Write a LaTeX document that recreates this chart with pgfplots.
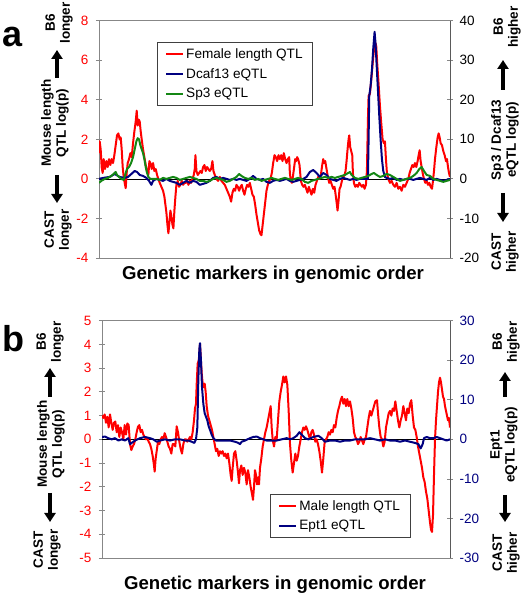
\documentclass[border=0pt]{standalone}
\usepackage{fontspec}
\setmainfont{Liberation Sans}
\usepackage{pgfplots}
\pgfplotsset{compat=1.18}
\usetikzlibrary{arrows.meta}
\definecolor{qred}{RGB}{255,0,0}
\definecolor{qnavy}{RGB}{0,0,128}
\definecolor{qgreen}{RGB}{20,135,20}
\definecolor{axgray}{RGB}{135,135,135}
\definecolor{axdark}{RGB}{90,90,90}
\newcommand{\lf}{\fontsize{13.6}{14.5}\selectfont}
\pgfplotsset{
  base/.style={scale only axis, width=351pt, height=237.3pt,
    xtick=\empty, tick align=center, major tick length=6pt,
    axis line style={axgray, line width=0.8pt},
    every tick/.style={axgray, line width=0.8pt},
    tick label style={font=\fontsize{13.5}{14}\selectfont},
    /pgf/number format/assume math mode=true,
    anchor=south west},
  curve/.style={line width=2pt, line join=round},
  legend image code/.code={\draw[#1, line width=2pt] (0pt,0pt) -- (17pt,0pt);},
}
\tikzset{
  lab/.style={rotate=90, align=center, font=\bfseries\fontsize{13.5}{15}\selectfont},
  bigarr/.style={line width=3.6pt, -{Triangle[width=11pt,length=9pt]}},
}
\begin{document}
\begin{tikzpicture}[x=1pt,y=1pt]
\path[use as bounding box] (0,0) rectangle (522,598);
% ===== Panel a =====
\begin{axis}[base, at={(99pt,340pt)}, xmin=298, xmax=1350,
  ymin=-4, ymax=8, ytick={-4,-2,0,2,4,6,8}, ytick pos=left,
  yticklabel style={qred, xshift=-4pt}]
\addplot[black, line width=0.6pt] coordinates {(298,0) (1350,0)};
\addplot[qred, curve] coordinates {
(298,1.3) (300,1.9) (303,1.5) (306,0.6) (309,0.3) (312,1.0) (316,0.5) (320,0.9) (324,0.6) (328,1.0) (332,0.7) (336,1.0) (340,0.8) (344,1.2) (348,1.7) (352,2.2) (356,2.3) (360,2.0) (363,2.1) (366,1.5) (369,0.6) (372,0.1) (375,-0.2) (378,-0.47) (381,0.3) (384,0.8) (388,1.0) (392,1.3) (396,1.1) (400,1.8) (404,2.4) (408,2.9) (411,3.45) (414,2.7) (417,3.0) (420,2.9) (423,2.4) (426,2.0) (430,1.5) (434,1.1) (438,0.7) (442,0.4) (446,0.2) (449,0.9) (452,0.8) (456,0.5) (460,0.8) (464,0.4) (468,0.5) (472,0.2) (476,0.0) (480,-0.2) (485,-0.4) (490,-0.6) (494,-0.9) (497,-1.3) (500,-1.7) (503,-2.3) (506,-2.75) (509,-2.2) (512,-1.6) (515,-1.9) (518,-2.3) (521,-2.5) (524,-1.6) (527,-0.9) (530,-0.3) (534,-0.1) (538,-0.4) (542,-0.3) (546,-0.1) (550,-0.3) (554,-0.2) (558,-0.2) (562,-0.1) (566,-0.3) (570,-0.1) (574,-0.2) (578,0.0) (582,0.2) (585,0.5) (587,1.2) (590,0.4) (594,0.2) (598,0.3) (602,0.4) (606,0.3) (610,0.6) (614,0.7) (618,0.4) (622,0.6) (626,0.5) (630,0.4) (634,0.5) (638,0.9) (641,0.4) (645,0.2) (650,0.0) (655,-0.1) (660,0.1) (665,-0.1) (670,-0.2) (675,-0.3) (680,-0.5) (685,-0.7) (690,-0.9) (694,-1.15) (698,-0.7) (702,-0.5) (706,-0.6) (710,-0.3) (714,-0.4) (718,-0.6) (722,-0.4) (726,-0.3) (730,-0.6) (734,-0.8) (738,-0.5) (742,-0.3) (746,-0.4) (750,-0.2) (754,-0.5) (758,-0.8) (762,-0.9) (766,-1.3) (770,-1.8) (774,-2.2) (778,-2.6) (782,-2.8) (785,-2.85) (788,-2.4) (792,-1.8) (796,-1.2) (800,-0.6) (804,-0.3) (808,-0.1) (812,0.0) (816,0.3) (820,0.8) (824,1.2) (828,1.1) (832,0.9) (836,1.2) (840,1.0) (844,1.2) (848,0.9) (852,1.3) (856,1.0) (860,0.8) (864,1.0) (868,1.1) (870,0.3) (873,-0.1) (876,-0.2) (879,0.1) (883,0.6) (886,1.0) (889,0.9) (892,1.1) (895,1.0) (899,0.7) (903,-0.1) (907,-0.3) (911,-0.4) (915,-0.3) (919,-0.5) (923,-0.7) (927,-0.4) (931,-0.6) (935,-0.8) (939,-0.5) (943,-0.7) (947,-0.3) (951,-0.1) (955,0.1) (959,0.0) (963,0.2) (967,0.7) (970,1.0) (973,0.8) (976,0.9) (980,0.5) (984,0.1) (988,-0.2) (992,-0.1) (996,-0.3) (1000,-0.5) (1004,-0.4) (1008,-0.9) (1011,-1.3) (1013,-1.6) (1016,-1.1) (1019,-0.5) (1022,-0.4) (1026,-0.1) (1030,0.1) (1034,0.2) (1037,0.4) (1040,0.9) (1043,1.5) (1046,2.0) (1048,2.2) (1051,1.6) (1054,1.4) (1057,1.2) (1059,0.3) (1062,-0.2) (1066,-0.4) (1070,-0.3) (1074,-0.4) (1078,-0.2) (1082,-0.3) (1086,-0.4) (1090,-0.3) (1094,-0.5) (1098,-0.3) (1101,0.4) (1104,3.0) (1106,4.2) (1110,4.3) (1114,5.0) (1118,5.8) (1122,6.5) (1126,6.9) (1129,6.7) (1132,5.8) (1136,4.8) (1140,3.7) (1144,2.8) (1148,2.0) (1152,1.8) (1155,1.9) (1158,1.0) (1161,0.3) (1165,0.0) (1170,-0.2) (1175,-0.1) (1180,-0.3) (1185,-0.4) (1190,-0.2) (1195,-0.5) (1200,-0.4) (1205,-0.6) (1210,-0.3) (1215,-0.4) (1220,-0.2) (1225,0.0) (1229,0.3) (1233,0.5) (1237,0.7) (1241,0.6) (1245,0.8) (1249,0.6) (1253,0.9) (1256,1.2) (1259,1.45) (1262,0.9) (1265,0.6) (1268,0.3) (1272,0.0) (1276,-0.2) (1280,-0.1) (1284,-0.3) (1288,-0.2) (1292,-0.4) (1296,-0.5) (1299,-0.1) (1302,0.4) (1305,1.0) (1309,1.6) (1313,2.1) (1316,2.3) (1319,2.1) (1322,1.8) (1326,1.7) (1330,1.4) (1334,1.2) (1338,0.9) (1341,1.0) (1344,0.6) (1347,0.3) (1350,0.1)
};
\end{axis}
\begin{axis}[base, at={(99pt,340pt)}, xmin=298, xmax=1350,
  ymin=-20, ymax=40, ytick={-20,-10,0,10,20,30,40},
  axis x line=none, axis y line*=right,
  axis line style={axdark, line width=0.8pt},
  yticklabel style={xshift=3pt},
  legend style={at={(0.165,0.91)}, anchor=north west, draw=black!75,
    line width=0.6pt, row sep=4.5pt, inner xsep=8pt, inner ysep=4pt},
  legend cell align=left]
\addlegendimage{qred}
\addlegendentry{\lf Female length QTL}
\addplot[qnavy, curve] coordinates {
(298,0) (310,0.25) (330,0.5) (345,1.25) (360,0.5) (375,0.25) (385,0.5) (395,1.25) (405,2.0) (412,1.75) (420,1.0) (430,0.75) (440,0.25) (448,-0.5) (455,-1.5) (460,-0.5) (470,0) (480,-0.25) (490,-0.5) (500,0) (510,-0.5) (520,-0.75) (530,-1.0) (540,-1.5) (550,-1.0) (560,-0.5) (570,-1.0) (580,-0.5) (590,-0.75) (600,-1.5) (610,-1.25) (620,-1.0) (630,-0.5) (640,0.25) (650,0.5) (660,0) (670,0.25) (680,0) (690,-0.25) (700,0) (710,-0.25) (720,0) (730,-0.25) (740,-0.5) (750,0) (760,0.75) (770,0) (780,-0.25) (790,0) (800,-0.75) (810,-1.0) (820,-0.5) (830,-0.25) (840,-0.5) (850,-0.25) (860,0) (870,-0.5) (880,-0.75) (890,-0.5) (900,-0.25) (910,0) (920,0.5) (930,1.75) (940,2.25) (950,1.5) (960,0.5) (970,1.5) (980,1.0) (990,0) (1000,-0.25) (1010,-0.5) (1020,0) (1030,0.25) (1040,0) (1050,-0.25) (1060,0) (1070,-0.25) (1080,0) (1090,0) (1100,0) (1104,0) (1106,10) (1108,21) (1112,23.5) (1116,27.5) (1120,33) (1124,37.2) (1127,34) (1130,29) (1134,22.5) (1138,16) (1142,10) (1146,5) (1150,2) (1155,0.5) (1160,0.25) (1170,0) (1180,0.25) (1190,-0.25) (1200,0) (1210,-0.25) (1220,0) (1230,0) (1240,-0.25) (1250,0) (1260,0.25) (1270,0) (1280,-0.25) (1290,0.25) (1300,-0.25) (1310,0) (1320,-0.25) (1330,-0.5) (1340,-0.25) (1350,0)
};
\addlegendentry{\lf Dcaf13 eQTL}
\addplot[qgreen, curve] coordinates {
(298,-1.0) (305,-0.5) (315,0) (325,0.25) (335,0.75) (342,1.25) (348,1.75) (352,1.0) (358,0.5) (365,0) (372,-0.25) (378,1.5) (382,2.5) (388,3.0) (394,4.0) (400,5.5) (405,7.5) (410,9.5) (414,10.3) (418,10.0) (422,8.5) (426,7.5) (430,6.5) (434,5.0) (438,3.0) (442,1.5) (446,0.5) (452,0) (460,0) (470,0) (480,-0.25) (490,0.25) (500,0) (510,0.25) (520,0.5) (530,0.25) (540,-0.25) (550,0) (560,0.25) (570,0.5) (580,0.25) (590,0) (600,-0.5) (610,-0.5) (620,-0.75) (630,-0.5) (640,0) (650,0.25) (660,0) (670,-0.25) (680,-0.75) (690,-0.5) (700,0) (710,0.5) (718,1.25) (725,0.75) (735,0.25) (745,0) (755,0.25) (765,-0.25) (775,0) (785,-0.5) (795,-0.25) (805,0) (815,0.25) (825,0) (835,-0.25) (845,0) (855,0.25) (865,0) (875,-0.25) (885,0) (895,0.25) (905,0) (915,-0.75) (925,-1.0) (935,-0.5) (945,-0.25) (955,0) (965,0.25) (975,0.5) (985,0.25) (995,0.5) (1005,0.25) (1015,0.5) (1025,0.75) (1035,1.0) (1045,1.5) (1050,1.75) (1055,1.0) (1065,0.25) (1075,0) (1085,0.25) (1095,0.5) (1105,0.75) (1115,1.25) (1122,1.5) (1130,1.0) (1140,0.5) (1150,0.75) (1160,1.25) (1170,1.0) (1180,0.5) (1190,0) (1200,-0.5) (1210,-0.25) (1220,0) (1230,0.25) (1240,0.75) (1250,1.5) (1258,2.5) (1265,3.0) (1272,2.0) (1280,1.0) (1290,0.75) (1300,0) (1310,-0.25) (1320,-0.5) (1330,-0.75) (1340,-0.5) (1350,-0.25)
};
\addlegendentry{\lf Sp3 eQTL}
\end{axis}
% ===== Panel b =====
\begin{axis}[base, at={(102pt,40pt)}, width=348pt, xmin=306, xmax=1350,
  ymin=-5, ymax=5, ytick={-5,-4,...,5}, ytick pos=left,
  yticklabel style={qred, xshift=-4pt}]
\addplot[black, line width=0.6pt] coordinates {(306,0) (1350,0)};
\addplot[qred, curve] coordinates {
(306,1.0) (310,0.9) (314,1.05) (318,0.7) (322,0.95) (326,0.5) (330,1.05) (334,0.7) (338,0.4) (342,0.7) (346,0.75) (350,0.3) (354,0.6) (358,0.1) (362,0.5) (366,0.3) (370,0.0) (374,0.6) (378,0.2) (382,0.67) (386,0.6) (390,-0.2) (394,-0.45) (398,-0.3) (402,-0.2) (406,0.0) (410,0.3) (414,0.53) (418,0.6) (422,0.3) (426,0.4) (430,0.2) (434,0.1) (438,0.0) (442,0.05) (446,-0.1) (450,-0.2) (454,-0.4) (458,-0.7) (462,-1.1) (464,-1.36) (467,-0.8) (470,-0.5) (474,-0.1) (478,-0.2) (482,0.0) (486,0.1) (490,0.0) (494,0.26) (498,0.1) (502,-0.1) (506,-0.3) (510,-0.4) (514,-0.6) (518,-0.2) (522,-0.2) (526,-0.3) (530,0.55) (534,0.3) (538,-0.1) (542,-0.4) (546,-0.6) (550,-0.2) (554,0.0) (558,0.0) (562,-0.1) (566,0.0) (570,0.1) (574,0.0) (578,0.3) (582,0.8) (585,1.3) (588,1.5) (590,2.3) (593,3.2) (596,3.3) (598,3.6) (600,4.0) (602,3.5) (605,2.8) (608,2.35) (611,2.2) (614,2.35) (617,2.0) (620,1.4) (624,1.0) (628,0.8) (632,0.6) (636,0.4) (640,0.1) (644,-0.2) (648,-0.5) (652,-0.4) (656,-0.7) (660,-0.5) (664,-0.6) (668,-0.5) (672,-0.7) (676,-0.6) (680,-0.8) (684,-0.6) (688,-1.0) (692,-1.5) (695,-1.75) (698,-1.2) (702,-0.6) (706,-0.5) (710,-0.9) (714,-1.4) (717,-1.85) (720,-1.3) (724,-1.1) (728,-1.5) (732,-1.2) (736,-1.4) (740,-1.9) (744,-1.3) (748,-1.6) (752,-2.0) (756,-2.3) (759,-2.55) (762,-2.0) (765,-1.3) (768,-1.5) (771,-1.9) (774,-1.6) (777,-1.9) (780,-1.2) (784,-0.8) (788,-0.3) (792,0.0) (796,0.3) (800,0.5) (804,0.8) (808,1.1) (812,1.4) (815,0.5) (818,0.0) (822,-0.3) (826,0.1) (830,0.0) (834,0.8) (838,1.6) (842,2.0) (846,2.3) (850,2.65) (854,2.4) (858,2.65) (862,2.3) (866,1.2) (870,-0.2) (874,-0.9) (878,-1.4) (882,-1.0) (886,-0.6) (890,-0.9) (894,-0.7) (898,-0.3) (902,0.0) (906,0.3) (910,0.5) (914,0.4) (918,0.55) (922,0.4) (926,0.2) (930,0.0) (934,0.3) (938,0.4) (942,0.2) (946,-0.1) (950,0.0) (954,-0.2) (958,-0.5) (962,-0.9) (966,-1.4) (970,-0.8) (974,-0.1) (978,0.0) (982,0.1) (986,0.3) (990,0.2) (994,0.4) (998,0.3) (1002,0.6) (1006,0.5) (1010,0.9) (1014,1.2) (1018,1.4) (1022,1.65) (1026,1.8) (1030,1.5) (1034,1.7) (1038,1.4) (1042,1.7) (1046,1.4) (1050,1.6) (1054,1.3) (1058,0.9) (1062,0.3) (1066,0.1) (1070,0.0) (1074,-0.2) (1078,-0.1) (1082,0.1) (1086,-0.05) (1090,-0.2) (1094,0.0) (1098,0.1) (1102,0.5) (1106,0.9) (1110,1.2) (1114,1.0) (1118,1.2) (1122,1.4) (1126,1.6) (1131,1.65) (1134,1.1) (1138,0.5) (1142,0.1) (1146,0.0) (1150,-0.3) (1154,-0.1) (1158,0.5) (1162,0.8) (1166,1.1) (1170,1.2) (1174,1.0) (1178,1.3) (1182,1.2) (1186,1.6) (1190,1.2) (1194,0.8) (1198,0.5) (1202,0.8) (1206,1.0) (1210,1.4) (1214,1.1) (1218,0.8) (1222,1.3) (1226,1.1) (1230,1.5) (1234,1.65) (1238,1.0) (1242,0.5) (1246,0.4) (1250,0.1) (1254,-0.3) (1258,-0.6) (1262,-0.9) (1266,-1.2) (1270,-1.6) (1274,-1.8) (1278,-2.2) (1282,-2.5) (1286,-3.0) (1290,-3.5) (1293,-3.8) (1296,-3.9) (1299,-3.2) (1302,-1.5) (1305,0.0) (1308,0.8) (1311,1.4) (1314,2.0) (1317,2.4) (1320,2.6) (1323,2.4) (1326,2.1) (1329,1.8) (1332,1.7) (1335,1.4) (1338,1.2) (1341,1.0) (1344,0.8) (1347,0.9) (1350,0.5)
};
\end{axis}
\begin{axis}[base, at={(102pt,40pt)}, width=348pt, xmin=306, xmax=1350,
  ymin=-30, ymax=30, ytick={-30,-20,...,30},
  axis x line=none, axis y line*=right,
  axis line style={axdark, line width=0.8pt},
  yticklabel style={qnavy, xshift=3pt},
  legend style={at={(0.483,0.27)}, anchor=north west, draw=black!75,
    line width=0.6pt, row sep=4.5pt, inner xsep=8pt, inner ysep=4pt},
  legend cell align=left]
\addlegendimage{qred}
\addlegendentry{\lf Male length QTL}
\addplot[qnavy, curve] coordinates {
(306,0.6) (315,0.7) (325,0.3) (335,0) (345,0.3) (355,-0.3) (365,0) (375,-0.3) (385,0.3) (390,-1.2) (395,-0.9) (405,-0.3) (420,0.3) (435,0.6) (450,0.3) (460,0) (470,-0.6) (480,-0.3) (495,0) (510,-0.3) (525,0) (540,0) (555,-0.3) (565,-0.3) (575,-0.6) (583,-0.9) (588,0) (592,3) (595,15) (598,22.8) (600,24.3) (603,19.8) (606,13.2) (610,9) (614,6.6) (618,5.7) (622,4.8) (626,3.3) (630,2.4) (635,1.2) (640,0.3) (648,-0.3) (660,-0.3) (675,-0.3) (690,-0.3) (705,-0.6) (715,-0.9) (720,-1.2) (725,-0.6) (735,-0.3) (750,0.3) (760,0.6) (770,0.7) (780,0.3) (790,0) (800,-0.3) (815,-0.3) (830,-0.3) (845,0) (860,0.3) (870,0) (880,0.3) (890,0.9) (898,1.8) (905,1.2) (915,0.3) (925,0) (940,0.6) (955,0.9) (965,0.3) (975,-0.6) (990,-0.3) (1005,-0.3) (1020,-0.6) (1035,-0.3) (1050,-0.3) (1065,0) (1080,0) (1095,0) (1110,0.3) (1125,0) (1140,-0.3) (1155,0) (1170,-0.3) (1185,-0.3) (1200,-0.6) (1215,-0.3) (1230,-0.6) (1245,-0.9) (1255,-1.2) (1262,-2.3) (1268,-1.2) (1272,0.3) (1280,0.6) (1290,0.3) (1300,0.3) (1310,0.6) (1320,0.3) (1330,0) (1340,-0.3) (1350,0)
};
\addlegendentry{\lf Ept1 eQTL}
\end{axis}
% ===== annotations panel a =====
\node[anchor=base west, font=\bfseries\fontsize{36}{36}\selectfont, inner sep=0pt] at (2,551) {a};
\node[lab] at (59,575) {B6\\longer};
\draw[bigarr] (57,520) -- (57,548);
\node[lab] at (55,475) {Mouse length\\QTL log(p)};
\draw[bigarr] (57,423) -- (57,395);
\node[lab] at (58,368) {CAST\\longer};
\node[lab] at (507,571) {B6\\higher};
\draw[bigarr] (503,508) -- (503,538);
\node[lab] at (505,458) {Sp3 / Dcaf13\\eQTL log(p)};
\draw[bigarr] (503,405) -- (503,376);
\node[lab] at (505,346) {CAST\\higher};
\node[font=\bfseries\fontsize{18.6}{20}\selectfont] at (273,323) {Genetic markers in genomic order};
% ===== annotations panel b =====
\node[anchor=base west, font=\bfseries\fontsize{36}{36}\selectfont, inner sep=0pt] at (2,246) {b};
\node[lab] at (50,256) {B6\\longer};
\draw[bigarr] (50,201) -- (50,230);
\node[lab] at (51,154) {Mouse length\\QTL log(p)};
\draw[bigarr] (50,105) -- (50,76);
\node[lab] at (47,48) {CAST\\longer};
\node[lab] at (506,256) {B6\\higher};
\draw[bigarr] (505,201) -- (505,226);
\node[lab] at (504,153) {Ept1\\eQTL log(p)};
\draw[bigarr] (505,103) -- (505,76);
\node[lab] at (506,45) {CAST\\higher};
\node[font=\bfseries\fontsize{18.6}{20}\selectfont] at (275,13) {Genetic markers in genomic order};
\end{tikzpicture}
\end{document}
